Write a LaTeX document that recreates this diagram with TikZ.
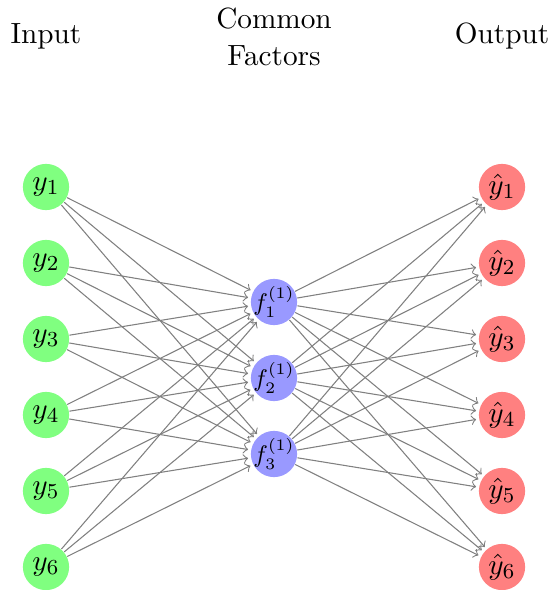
\documentclass[tikz,border=0pt]{standalone}
\begin{document}
\begin{tikzpicture}[x=0.0131579cm,y=-0.0131579cm,
  every node/.style={font=\fontsize{10.95}{13.6}\selectfont},
  neuron/.style={circle,minimum size=17.3pt,inner sep=-3pt},
  inneuron/.style={neuron,fill=green!50},
  hidneuron/.style={neuron,fill=blue!40,font=\fontsize{9}{11}\selectfont},
  outneuron/.style={neuron,fill=red!50},
  conn/.style={->,draw=black!50,shorten >=1pt},
  lab/.style={align=center}]
\useasboundingbox (0,0) rectangle (551,590);
\foreach \i in {1,...,6}{
  \node[inneuron] (I\i) at (46,{187+76*(\i-1)}) {$y_\i$};
  \node[outneuron] (O\i) at (502,{187+76*(\i-1)}) {$\hat{y}_\i$};
}
\foreach \j in {1,2,3}{
  \node[hidneuron] (H\j) at (274,{302+76*(\j-1)}) {$f^{(1)}_\j$};
}
\foreach \i in {1,...,6}{
  \foreach \j in {1,2,3}{
    \draw[conn] (I\i) -- (H\j);
    \draw[conn] (H\j) -- (O\i);
  }
}
\node[lab] (tin) at (46,36) {Input};
\node[lab] (thid) at (274,37) {Common\\Factors};
\node[lab] (tout) at (502,36) {Output};
\end{tikzpicture}
\end{document}
